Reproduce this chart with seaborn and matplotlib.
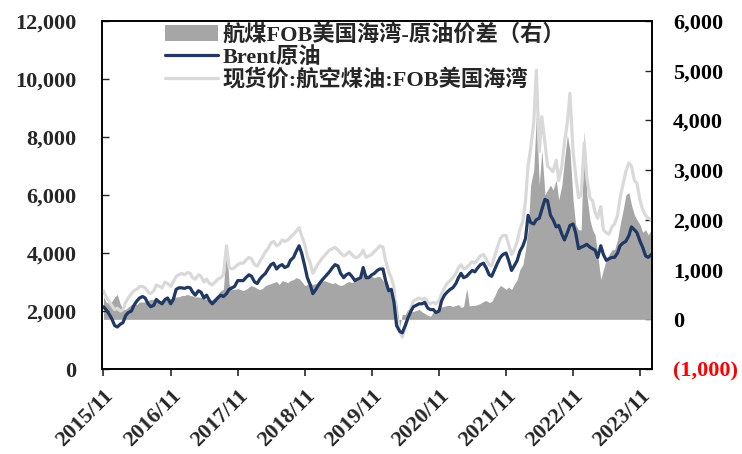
import pandas as pd
import numpy as np
import matplotlib
matplotlib.use("Agg")
import matplotlib.pyplot as plt
import matplotlib.dates as mdates
from matplotlib.patches import Patch
from matplotlib.lines import Line2D
import seaborn as sns

# semi-monthly points, 2015/11 .. 2024/01
dates = pd.date_range("2015-11-01", "2024-01-01", freq="SMS")

brent = [
    2150, 2050, 1900, 1750,
    1500, 1450, 1550, 1600, 1850, 1950, 2000, 2200, 2350, 2450, 2500, 2450,
    2250, 2150, 2200, 2400, 2300, 2250, 2400, 2450, 2250, 2400, 2750, 2800,
    2800, 2780, 2820, 2800, 2650, 2550, 2700, 2650, 2450, 2550, 2350, 2250,
    2350, 2450, 2550, 2500, 2600, 2750, 2800, 2850, 3050, 3050, 3050, 3150,
    3250, 3200, 3000, 2950, 3100, 3200, 3300, 3450, 3600, 3650, 3450, 3550,
    3600, 3500, 3550, 3750, 3850, 4050, 4250, 4000, 3550, 3150, 2900, 2600,
    2750, 2900, 3050, 3150, 3250, 3350, 3500, 3600, 3550, 3300, 3150, 3250,
    3300, 3200, 3050, 3100, 3150, 3500, 3150, 3150, 3250, 3300, 3400, 3450,
    3450, 3050, 2700, 2750, 2300, 1500, 1300, 1250, 1500, 1750, 2000, 2150,
    2200, 2250, 2250, 2300, 2100, 2050, 2050, 1950, 2000, 2350, 2550, 2650,
    2750, 2800, 2950, 3150, 3300, 3150, 3200, 3300, 3400, 3350, 3500, 3600,
    3650, 3500, 3250, 3200, 3450, 3650, 3850, 3950, 4000, 3750, 3400, 3550,
    3750, 4050, 4250, 4500, 5300, 5050, 5000, 5150, 5200, 5500, 5850, 5800,
    5300, 5150, 4900, 4950, 4650, 4450, 4700, 4950, 5000, 4700, 4150, 4200,
    4250, 4300, 4200, 4150, 4100, 3850, 4250, 3950, 3750, 3800, 3850, 3850,
    4000, 4250, 4350, 4400, 4600, 4900, 4800, 4700, 4400, 4200, 3900, 3850,
    3950,
]

jet_usgc = [
    2700, 2500, 2350, 2200,
    2050, 2100, 2000, 2050, 2300, 2450, 2600, 2700, 2750, 2850, 2850, 2800,
    2650, 2600, 2700, 2900, 2850, 2800, 3000, 2950, 2850, 3000, 3200, 3250,
    3300, 3250, 3330, 3300, 3150, 3100, 3250, 3200, 3000, 3100, 2950, 2900,
    3000, 3100, 3150, 3250, 4250, 3500, 3450, 3500, 3600, 3650, 3650, 3750,
    3850, 3800, 3600, 3550, 3700, 3850, 4050, 4150, 4350, 4400, 4250, 4300,
    4450, 4400, 4450, 4550, 4650, 4750, 4870, 4600, 4300, 3900, 3650, 3300,
    3500, 3650, 3800, 3900, 4000, 4100, 4150, 4200, 4100, 4000, 3900, 3950,
    4050, 3950, 3850, 3850, 3950, 4100, 3850, 3900, 3950, 4050, 4150, 4250,
    4200, 3750, 3350, 3150, 2800, 1800, 1300, 1100, 1450, 1700, 2100, 2350,
    2400, 2450, 2400, 2450, 2300, 2250, 2300, 2250, 2350, 2600, 2800, 2950,
    3050, 3150, 3300, 3500, 3600, 3450, 3500, 3600, 3700, 3650, 3800, 3900,
    3950, 3800, 3600, 3550, 3900, 4200, 4500, 4600, 4600, 4300, 3950, 4100,
    4400, 4800, 5100, 5800, 7000, 7600, 8500, 10300, 7500, 8700, 7800, 7000,
    6900, 6800, 7200, 6500, 7000, 7800, 8500, 9500, 7500, 6700, 5900, 6000,
    7800, 6600, 5900, 5800, 5400, 5200, 5600, 4800, 4700, 4650, 4900, 5000,
    5300, 5900, 6400, 6800, 7100, 7000, 6500, 6400, 5800, 5500, 5300, 5200,
    5150,
]

spread = [
    450, 350, 320, 350,
    450, 500, 300, 200, 200, 250, 300, 300, 300, 350, 350, 350,
    380, 400, 400, 400, 380, 380, 400, 420, 420, 450, 450, 450,
    480, 480, 500, 480, 470, 450, 450, 440, 420, 400, 380, 400,
    450, 500, 580, 600, 1500, 700, 600, 600, 620, 600, 580, 600,
    650, 680, 650, 620, 600, 620, 680, 700, 720, 740, 760, 700,
    780, 760, 740, 780, 800, 840, 820, 760, 680, 700, 720, 700,
    720, 760, 760, 780, 760, 740, 720, 740, 700, 680, 700, 740,
    760, 740, 780, 800, 820, 1000, 900, 880, 860, 840, 860, 860,
    780, 700, 600, 500, 450, 350, -150, 100, 100, 200, 150, 160,
    180, 200, 150, 120, 80, 60, 150, 160, 220, 250, 260, 280,
    280, 260, 280, 300, 240, 260, 620, 270, 280, 280, 300, 320,
    360, 380, 340, 360, 480, 600, 680, 650, 600, 650, 600, 700,
    800, 1000, 1100, 1400, 1800, 2700, 3000, 4100, 2700, 3400, 2500, 2600,
    2700, 2600, 2800, 2400, 2700, 3200, 3700, 3400, 2400, 1900, 1800, 1800,
    3800, 2500, 2000, 1800, 1700, 1300, 800, 1000, 1200, 1300, 1400, 1400,
    1600, 1900, 2200, 2500, 2550, 2300, 2100, 2000, 1900, 1750, 1800, 1700,
    1800,
]

labels = ["航煤FOB美国海湾-原油价差（右）", "Brent原油", "现货价:航空煤油:FOB美国海湾"]
c_spread, c_brent, c_jet = "#A6A6A6", "#1F3864", "#D9D9D9"

df = pd.DataFrame({"date": dates, "brent": brent, "jet": jet_usgc, "spread": spread})

sns.set_theme(style="white")
plt.rcParams["font.family"] = ["Liberation Serif", "Noto Sans CJK SC"]
plt.rcParams["font.weight"] = "bold"

fig = plt.figure(figsize=(7.42, 4.54), dpi=100)
ax = fig.add_axes([0.137, 0.187, 0.742, 0.767])
ax_r = ax.twinx()

# spread area on the right axis, drawn behind the price lines
ax_r.fill_between(df["date"], 0, df["spread"], color=c_spread, linewidth=0)
ax.set_zorder(ax_r.get_zorder() + 1)
ax.patch.set_visible(False)

sns.lineplot(data=df, x="date", y="jet", ax=ax, color=c_jet, linewidth=2.3)
sns.lineplot(data=df, x="date", y="brent", ax=ax, color=c_brent, linewidth=2.3)

ax.set_xlim(pd.Timestamp("2015-10-22"), pd.Timestamp("2024-01-06"))
ax.set_ylim(0, 12000)
ax_r.set_ylim(-1000, 6000)
ax.set_xlabel("")
ax.set_ylabel("")
ax_r.set_ylabel("")

ax.set_xticks(pd.date_range("2015-11-01", "2023-11-01", freq="12MS"))
ax.xaxis.set_major_formatter(mdates.DateFormatter("%Y/%m"))
ax.set_yticks(range(0, 12001, 2000))
ax.set_yticklabels([f"{v:,}" for v in range(0, 12001, 2000)], fontsize=16, fontweight="bold")

r_ticks = list(range(-1000, 6001, 1000))
r_labels = [f"({abs(v):,})" if v < 0 else f"{v:,}" for v in r_ticks]
ax_r.set_yticks(r_ticks)
ax_r.set_yticklabels(r_labels, fontsize=16, fontweight="bold")
for t, v in zip(ax_r.get_yticklabels(), r_ticks):
    t.set_color("red" if v < 0 else "black")

for lab in ax.get_xticklabels():
    lab.set_rotation(45)
    lab.set_ha("right")
    lab.set_va("top")
    lab.set_rotation_mode("anchor")
    lab.set_fontsize(16)
    lab.set_fontweight("bold")

ax.tick_params(axis="x", direction="out", length=5, width=1.2, pad=7, bottom=True)
ax.tick_params(axis="y", direction="in", length=5, width=1.0, pad=18, left=True)
ax_r.tick_params(axis="y", direction="in", length=5, width=1.0, pad=15, right=True)

for a in (ax, ax_r):
    for s in a.spines.values():
        s.set_color("black")
        s.set_linewidth(1.2)

handles = [
    Patch(facecolor=c_spread, edgecolor="none"),
    Line2D([], [], color=c_brent, linewidth=2.3),
    Line2D([], [], color=c_jet, linewidth=2.3),
]
ax.legend(handles, labels, loc="upper left", bbox_to_anchor=(0.115, 0.99),
          frameon=False, borderpad=0, borderaxespad=0, handlelength=2.4,
          handletextpad=0.2, labelspacing=0.05,
          prop={"family": ["Liberation Serif", "Noto Sans CJK SC"], "weight": "bold", "size": 16})

fig.savefig("out.png", dpi=100)
